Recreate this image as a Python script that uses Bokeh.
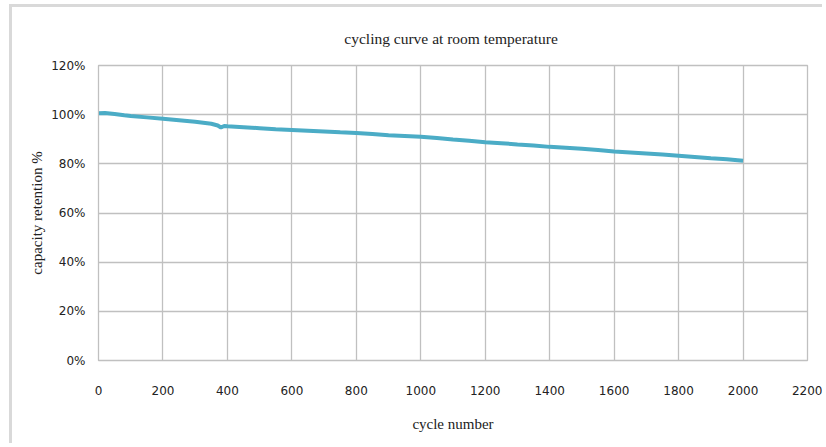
from bokeh.plotting import figure
from bokeh.models import NumeralTickFormatter, FixedTicker, Range1d
from bokeh.embed import file_html
from bokeh.resources import INLINE

cycles = [0, 20, 50, 80, 100, 150, 200, 250, 300, 350, 370, 380, 390, 400, 450, 500,
          550, 600, 650, 700, 750, 800, 850, 900, 950, 1000, 1050, 1100, 1150, 1200,
          1250, 1300, 1350, 1400, 1450, 1500, 1550, 1600, 1650, 1700, 1750, 1800,
          1850, 1900, 1950, 2000]
retention_pct = [100.6, 100.7, 100.3, 99.8, 99.5, 98.9, 98.3, 97.7, 97.1, 96.3, 95.6,
                 94.8, 95.4, 95.3, 94.9, 94.5, 94.1, 93.8, 93.5, 93.2, 92.8, 92.5, 92.1,
                 91.6, 91.3, 91.0, 90.5, 89.9, 89.4, 88.8, 88.4, 87.9, 87.5, 86.9, 86.5,
                 86.1, 85.6, 85.0, 84.6, 84.2, 83.8, 83.3, 82.8, 82.3, 81.9, 81.3]
x_ticks = [0, 200, 400, 600, 800, 1000, 1200, 1400, 1600, 1800, 2000, 2200]
y_ticks = [0.0, 0.2, 0.4, 0.6, 0.8, 1.0, 1.2]

title_text = "cycling  curve at room temperature"
x_label = "cycle number"
y_label = "capacity retention %"

retention = [v / 100.0 for v in retention_pct]

p = figure(width=813, height=439, output_backend="svg", toolbar_location=None,
           x_range=Range1d(0, 2200), y_range=Range1d(0, 1.2),
           min_border_left=86, min_border_right=18, min_border_top=58, min_border_bottom=86)

p.title.text = title_text
p.title.align = "center"
p.title.offset = 10
p.title.text_font = "Liberation Serif"
p.title.text_font_size = "15.5px"
p.title.text_font_style = "normal"
p.title.text_color = "#222222"
p.title.standoff = 38

p.line(cycles, retention, line_color="#4BACC6", line_width=4)

grid_color = "#c0c0c0"
for ax in (p.xaxis[0], p.yaxis[0]):
    ax.axis_line_color = grid_color
    ax.major_tick_line_color = None
    ax.minor_tick_line_color = None
    ax.major_label_text_font = "DejaVu Sans"
    ax.major_label_text_font_size = "12px"
    ax.major_label_text_color = "#222222"
    ax.axis_label_text_font = "Liberation Serif"
    ax.axis_label_text_font_size = "15px"
    ax.axis_label_text_font_style = "normal"
    ax.axis_label_text_color = "#222222"

p.xaxis.ticker = FixedTicker(ticks=x_ticks)
p.yaxis.ticker = FixedTicker(ticks=y_ticks)
p.yaxis.formatter = NumeralTickFormatter(format="0%")
p.xaxis.axis_label = x_label
p.yaxis.axis_label = y_label
p.xaxis.major_label_standoff = 19
p.xaxis.axis_label_standoff = 18
p.yaxis.major_label_standoff = 7
p.yaxis.axis_label_standoff = 3

p.xgrid.ticker = FixedTicker(ticks=x_ticks)
p.ygrid.ticker = FixedTicker(ticks=y_ticks)
p.xgrid.grid_line_color = grid_color
p.ygrid.grid_line_color = grid_color
p.xgrid.grid_line_width = 1.3
p.ygrid.grid_line_width = 1.3
p.outline_line_color = grid_color
p.outline_line_width = 1.3
p.styles = {"border-left": "3px solid #d9d9d9", "border-top": "3px solid #d9d9d9",
            "margin-left": "9px", "margin-top": "4px"}

open("out.html", "w").write(file_html(p, INLINE))
